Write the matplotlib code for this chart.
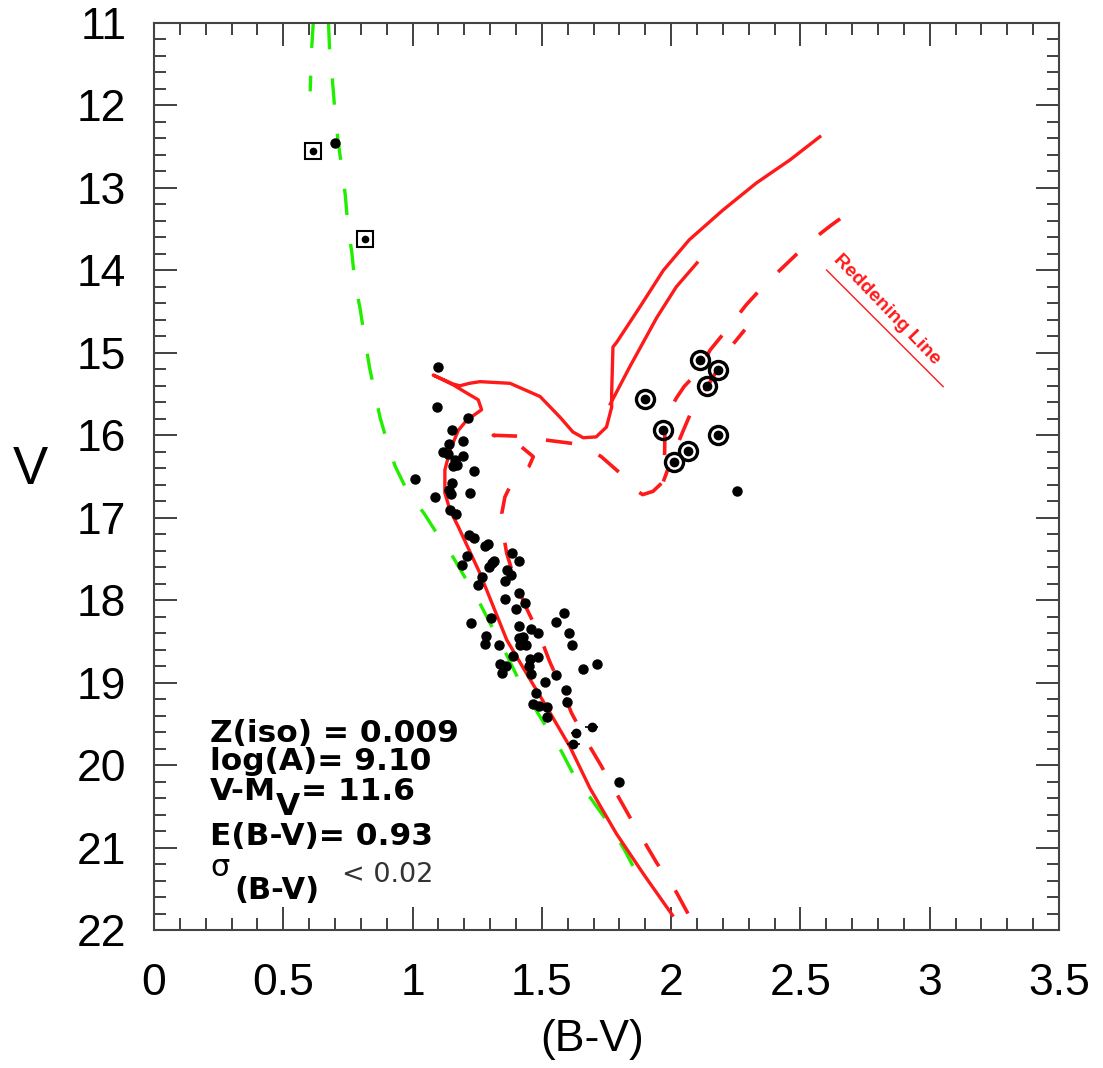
import matplotlib
matplotlib.use("Agg")
import matplotlib.pyplot as plt
from matplotlib.ticker import MultipleLocator, FuncFormatter

plt.rcParams['font.family'] = ['Liberation Sans', 'DejaVu Sans']
plt.rcParams['lines.scale_dashes'] = False

# ---- observed stars (B-V, V) ----
bv_stars = [1.10, 1.093, 1.213, 1.154, 1.141, 1.194, 1.116, 1.136, 1.194, 1.164,
            1.158, 1.173, 1.237, 1.009, 1.154, 1.141, 1.147, 1.222, 1.087, 1.145,
            1.168, 1.219, 1.239, 1.28, 1.293, 1.212, 1.19, 1.306, 1.316, 1.297,
            1.384, 1.413, 1.364, 1.381, 1.267, 1.357, 1.254, 1.413, 1.435, 1.357,
            1.40, 1.303, 1.226, 1.587, 1.555, 1.411, 1.457, 1.484, 1.605, 1.284,
            1.411, 1.428, 1.28, 1.335, 1.415, 1.615, 1.44, 1.387, 1.454, 1.486,
            1.338, 1.361, 1.345, 1.451, 1.46, 1.658, 1.712, 1.555, 1.512, 1.593,
            1.477, 1.598, 1.464, 1.49, 1.521, 1.521, 1.80, 0.70, 2.253]
v_stars = [15.17, 15.66, 15.79, 15.94, 16.10, 16.07, 16.20, 16.23, 16.25, 16.30,
           16.37, 16.36, 16.43, 16.53, 16.58, 16.66, 16.71, 16.70, 16.75, 16.91,
           16.96, 17.21, 17.25, 17.34, 17.32, 17.47, 17.57, 17.55, 17.53, 17.60,
           17.43, 17.52, 17.63, 17.70, 17.72, 17.77, 17.82, 17.91, 18.03, 17.99,
           18.11, 18.22, 18.28, 18.15, 18.26, 18.31, 18.35, 18.40, 18.40, 18.43,
           18.46, 18.45, 18.53, 18.54, 18.54, 18.54, 18.54, 18.68, 18.71, 18.69,
           18.77, 18.80, 18.88, 18.80, 18.89, 18.83, 18.77, 18.91, 18.99, 19.09,
           19.12, 19.23, 19.26, 19.28, 19.30, 19.42, 20.20, 12.46, 16.68]

# faint stars with horizontal error bars
bv_err_stars = [1.693, 1.632, 1.621]
v_err_stars = [19.54, 19.61, 19.74]
bv_err = [0.025, 0.02, 0.025]

# field stars marked with squares
bv_square = [0.616, 0.816]
v_square = [12.55, 13.62]

# red giant candidates marked with circles
bv_giants = [2.111, 2.18, 2.137, 1.899, 1.97, 2.18, 2.066, 2.011]
v_giants = [15.09, 15.21, 15.40, 15.56, 15.94, 16.00, 16.19, 16.32]

# ---- isochrone, solid red ----
iso_bv = [2.005, 1.895, 1.788, 1.686, 1.609, 1.525, 1.441, 1.364, 1.26, 1.177,
          1.145, 1.125, 1.125, 1.145, 1.177, 1.209, 1.267, 1.254, 1.20, 1.158,
          1.08, 1.158, 1.183, 1.22, 1.261, 1.377, 1.493, 1.57, 1.62, 1.66,
          1.71, 1.75, 1.77, 1.77, 1.775, 1.79, 1.88, 1.97, 2.07, 2.20,
          2.33, 2.46, 2.575]
iso_v = [21.82, 21.33, 20.83, 20.28, 19.78, 19.33, 18.89, 18.48, 17.67, 17.11,
         16.91, 16.70, 16.42, 16.18, 15.94, 15.82, 15.69, 15.57, 15.47, 15.39,
         15.27, 15.38, 15.40, 15.37, 15.35, 15.37, 15.53, 15.78, 15.96, 16.03,
         16.02, 15.90, 15.66, 15.49, 14.93, 14.87, 14.44, 14.00, 13.63, 13.27,
         12.94, 12.66, 12.38]
iso2_bv = [1.765, 1.84, 1.945, 2.02, 2.10]
iso2_v = [15.62, 15.17, 14.57, 14.20, 13.91]

# ---- isochrone, dashed red ----
dash_bv = [2.065, 2.02, 1.945, 1.90, 1.84, 1.788, 1.728, 1.675, 1.615, 1.577,
           1.531, 1.493, 1.441, 1.40, 1.364, 1.348, 1.345, 1.357, 1.377, 1.415,
           1.45, 1.467, 1.39, 1.312, 1.40, 1.52, 1.62, 1.68, 1.73, 1.81,
           1.86, 1.89, 1.93, 1.97, 1.975, 1.976, 1.989, 2.02, 2.05, 2.11,
           2.15, 2.22, 2.29, 2.36, 2.45, 2.53, 2.62, 2.70]
dash_v = [21.80, 21.54, 21.19, 20.95, 20.63, 20.34, 20.00, 19.72, 19.37, 19.07,
          18.75, 18.44, 18.10, 17.80, 17.43, 17.14, 16.95, 16.75, 16.62, 16.50,
          16.38, 16.26, 16.06, 16.00, 16.01, 16.06, 16.10, 16.16, 16.26, 16.48,
          16.66, 16.72, 16.68, 16.56, 16.20, 15.90, 15.73, 15.55, 15.41, 15.21,
          14.97, 14.70, 14.42, 14.18, 13.91, 13.67, 13.45, 13.27]
dash2_bv = [1.97, 2.01, 2.05, 2.08, 2.10, 2.14, 2.18, 2.215, 2.285]
dash2_v = [16.56, 16.22, 15.92, 15.70, 15.57, 15.41, 15.20, 14.99, 14.72]

# ---- ZAMS, dashed green ----
zams_bv = [0.675, 0.68, 0.69, 0.70, 0.71, 0.727, 0.74, 0.75, 0.765, 0.777,
           0.797, 0.816, 0.835, 0.874, 0.905, 0.932, 0.98, 1.045, 1.10, 1.157,
           1.254, 1.30, 1.357, 1.402, 1.473, 1.512, 1.577, 1.62, 1.693, 1.75,
           1.82, 1.86]
zams_v = [11.0, 11.39, 11.69, 12.08, 12.38, 12.78, 13.09, 13.47, 13.78, 14.15,
          14.46, 14.85, 15.20, 15.78, 16.12, 16.37, 16.68, 16.95, 17.22, 17.48,
          18.00, 18.28, 18.62, 18.91, 19.31, 19.51, 19.84, 20.10, 20.42, 20.67,
          21.03, 21.27]
zams2_bv = [0.616, 0.61, 0.604]
zams2_v = [11.0, 11.3, 11.83]

# ---- reddening vector ----
redd_bv = [2.601, 3.052]
redd_v = [13.996, 15.41]

fig = plt.figure(figsize=(11.03, 10.68), dpi=100)
ax = fig.add_axes([0.1396, 0.1292, 0.8205, 0.8493])

red = '#ff1a1a'
green = '#22ee00'
dash_pat = (0, (19, 21))

ax.plot(zams_bv, zams_v, color=green, lw=2.4, linestyle=dash_pat, zorder=2)
ax.plot(zams2_bv, zams2_v, color=green, lw=2.4, linestyle=(0, (18, 20)), zorder=2)
ax.plot(iso_bv, iso_v, color=red, lw=2.4, zorder=3)
ax.plot(iso2_bv, iso2_v, color=red, lw=2.4, zorder=3)
ax.plot(dash_bv, dash_v, color=red, lw=2.6, linestyle=dash_pat, zorder=3)
ax.plot(dash2_bv, dash2_v, color=red, lw=2.6, linestyle=(8, (19, 21)), zorder=3)
ax.plot(redd_bv, redd_v, color=red, lw=1.0, zorder=3)
ax.text(2.834, 14.47, 'Reddening Line', color=red, fontsize=14, fontweight='bold',
        rotation=-46, rotation_mode='anchor', ha='center', va='center')

ax.plot(bv_stars, v_stars, 'o', color='black', ms=6.5, zorder=4)
ax.errorbar(bv_err_stars, v_err_stars, xerr=bv_err, fmt='o', color='black',
            ms=6, elinewidth=1.2, capsize=0, zorder=4)
ax.plot(bv_square, v_square, 'o', color='black', ms=4.5, zorder=4)
ax.plot(bv_square, v_square, 's', mfc='none', mec='black', mew=1.5, ms=11.5, zorder=4)
ax.plot(bv_giants, v_giants, 'o', color='black', ms=6, zorder=4)
ax.plot(bv_giants, v_giants, 'o', mfc='none', mec='black', mew=2.4, ms=13, zorder=4)

ax.set_xlim(0, 3.5)
ax.set_ylim(22, 11)
ax.xaxis.set_major_locator(MultipleLocator(0.5))
ax.xaxis.set_minor_locator(MultipleLocator(0.1))
ax.yaxis.set_major_locator(MultipleLocator(1))
ax.yaxis.set_minor_locator(MultipleLocator(0.2))
ax.xaxis.set_major_formatter(FuncFormatter(lambda v, p: '%g' % v))
ax.yaxis.set_major_formatter(FuncFormatter(lambda v, p: '%g' % v))
ax.tick_params(which='both', direction='in', top=True, right=True,
               color='#333333', width=1.3)
ax.tick_params(which='major', length=16.5, labelsize=32)
ax.tick_params(axis='x', which='major', pad=24)
ax.tick_params(axis='y', which='major', pad=20)
ax.tick_params(which='minor', length=8.5)
for s in ax.spines.values():
    s.set_color('#444444')
    s.set_linewidth(1.5)

ax.set_xlabel('(B-V)', fontsize=32)
ax.xaxis.set_label_coords(0.484, -0.121)
ax.xaxis.label.set_va('center')
ax.set_ylabel('V', fontsize=38, rotation=0, va='center', ha='center')
ax.yaxis.set_label_coords(-0.137, 0.507)

bold = dict(family='DejaVu Sans', fontweight='bold', fontsize=22.5,
            transform=ax.transAxes, va='baseline', ha='left')
ax.text(0.062, 0.207, 'Z(iso) = 0.009', **bold)
ax.text(0.062, 0.176, 'log(A)= 9.10', **bold)
ax.text(0.062, 0.143, 'V-M', **bold)
ax.text(0.135, 0.127, 'V', **bold)
ax.text(0.163, 0.143, '= 11.6', **bold)
ax.text(0.062, 0.094, 'E(B-V)= 0.93', **bold)
ax.text(0.062, 0.060, '\u03c3', family='DejaVu Sans', fontsize=22,
        transform=ax.transAxes, va='baseline', ha='left')
ax.text(0.089, 0.034, '(B-V)', family='DejaVu Sans', fontweight='bold',
        fontsize=22, transform=ax.transAxes, va='baseline', ha='left')
ax.text(0.208, 0.053, '< 0.02', family='DejaVu Sans', fontsize=19.5,
        color='#333333', transform=ax.transAxes, va='baseline', ha='left')

fig.savefig('out.png', dpi=100)
